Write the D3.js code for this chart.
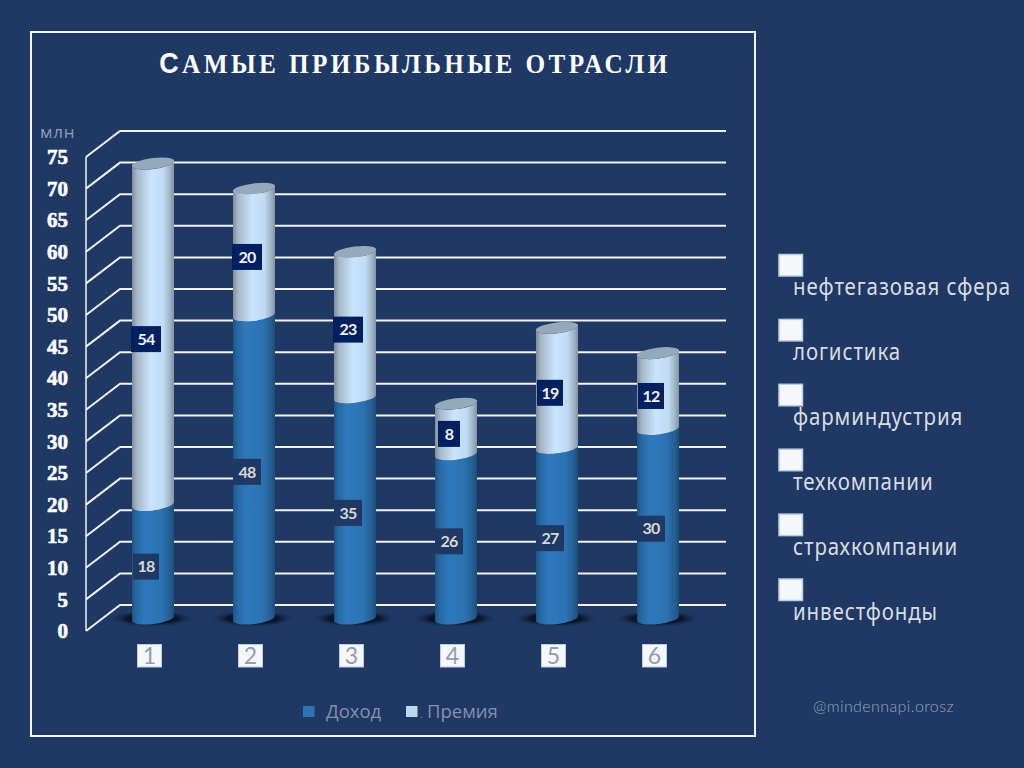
<!DOCTYPE html>
<html>
<head>
<meta charset="utf-8">
<script src="https://cdn.jsdelivr.net/npm/d3@7"></script>
<style>
  html, body { margin: 0; padding: 0; background: #1f3864; }
  svg { display: block; }
</style>
</head>
<body>
<script>
// Chart values
const categories = ['1', '2', '3', '4', '5', '6'];
const income = [18, 48, 35, 26, 27, 30];
const bonus = [54, 20, 23, 8, 19, 12];
const yTicks = [0, 5, 10, 15, 20, 25, 30, 35, 40, 45, 50, 55, 60, 65, 70, 75];
const industries = ['нефтегазовая сфера', 'логистика', 'фарминдустрия', 'техкомпании', 'страхкомпании', 'инвестфонды'];
const seriesNames = ['Доход', 'Премия'];

const svg = d3.select('body').append('svg').attr('width', 1024).attr('height', 768);
const defs = svg.append('defs');

// Cylinder shading
function sideGradient(id, stops) {
  const g = defs.append('linearGradient').attr('id', id).attr('x1', 0).attr('x2', 1).attr('y1', 0).attr('y2', 0);
  stops.forEach((s) => g.append('stop').attr('offset', s[0]).attr('stop-color', s[1]));
}
sideGradient('incomeFill', [[0, '#1f5482'], [0.1, '#2768a2'], [0.3, '#2e78bb'], [0.7, '#2c73b2'], [0.9, '#255e93'], [1, '#1e4d78']]);
sideGradient('bonusFill', [[0, '#7f8d9c'], [0.12, '#a6b8c9'], [0.45, '#c9e4fc'], [0.75, '#bfdaf2'], [0.92, '#9bafc2'], [1, '#8192a2']]);

const shadowGrad = defs.append('radialGradient').attr('id', 'floorShadow');
shadowGrad.append('stop').attr('offset', 0).attr('stop-color', '#070f20').attr('stop-opacity', 1);
shadowGrad.append('stop').attr('offset', 0.6).attr('stop-color', '#0a1428').attr('stop-opacity', 0.95);
shadowGrad.append('stop').attr('offset', 1).attr('stop-color', '#1f3864').attr('stop-opacity', 0);

// Frame
svg.append('rect')
  .attr('x', 31).attr('y', 32)
  .attr('width', 724).attr('height', 704)
  .attr('fill', 'none')
  .attr('stroke', '#f2f4f8')
  .attr('stroke-width', 2);

// Title
const title = svg.append('text')
  .attr('transform', 'translate(415,73) scale(0.9,1)')
  .attr('text-anchor', 'middle')
  .attr('fill', '#ffffff')
  .attr('font-family', 'Liberation Serif')
  .attr('font-weight', 'bold')
  .attr('font-size', 28)
  .attr('letter-spacing', 3.8);
title.append('tspan').attr('font-family', 'Liberation Sans').attr('font-size', 30).text('С');
title.append('tspan').text('АМЫЕ ПРИБЫЛЬНЫЕ ОТРАСЛИ');

// Scales: the wall is pushed back from the front axis by depth
const depthX = 34;
const depthY = 26;
const yFront = d3.scaleLinear().domain([0, 75]).range([631, 157]);
const yBack = (v) => yFront(v) - depthY;
const yBar = (v) => yFront(v) - 12.5;
const x = d3.scaleBand().domain(categories).range([85.5 + depthX / 2, 691.5 + depthX / 2]);
const barHalf = 21;

// Grid lines and the slanted wall
const grid = svg.append('g').attr('stroke', '#f0f2f6').attr('fill', 'none');
grid.selectAll('.back')
  .data(yTicks)
  .enter()
  .append('path')
  .attr('class', 'back')
  .attr('stroke-width', 2)
  .attr('d', (d) => `M${86},${yFront(d)}L${86 + depthX},${yBack(d)}L726,${yBack(d)}`);
grid.append('line')
  .attr('x1', 86).attr('x2', 86)
  .attr('y1', yFront(75)).attr('y2', yFront(0))
  .attr('stroke-width', 1.5);

// Y axis labels
const yAxis = svg.append('g')
  .attr('transform', 'translate(76,0)')
  .call(d3.axisLeft(yFront).tickValues(yTicks).tickSize(0).tickPadding(8));
yAxis.select('.domain').remove();
yAxis.selectAll('text')
  .attr('font-family', 'Liberation Serif')
  .attr('font-weight', 'bold')
  .attr('font-size', 21)
  .attr('fill', '#ffffff')
  .attr('stroke', '#ffffff')
  .attr('stroke-width', 0.6);

svg.append('text')
  .attr('x', 40).attr('y', 138)
  .attr('fill', '#8f9db5')
  .attr('font-family', 'Open Sans')
  .attr('font-size', 17)
  .attr('letter-spacing', 0.8)
  .text('млн');

// Bars
const rows = categories.map((c, i) => ({ c, income: income[i], bonus: bonus[i] }));
const tiltY = 2.6;

function sidePath(c, from, to) {
  const cx = x(c) + x.bandwidth() / 2;
  const l = cx - barHalf;
  const r = cx + barHalf;
  const top = yBar(to);
  const bot = yBar(from);
  return `M${l},${top + tiltY}A${barHalf},5.5 -7 0 0 ${r},${top - tiltY}L${r},${bot - tiltY}A${barHalf},5.5 -7 0 1 ${l},${bot + tiltY}Z`;
}

const bars = svg.selectAll('.bar').data(rows).enter().append('g').attr('class', 'bar');

bars.append('ellipse')
  .attr('cx', (d) => x(d.c) + x.bandwidth() / 2 - 1)
  .attr('cy', yBar(0))
  .attr('rx', 43)
  .attr('ry', 8.5)
  .attr('fill', 'url(#floorShadow)');

bars.append('path')
  .attr('d', (d) => sidePath(d.c, 0, d.income))
  .attr('fill', 'url(#incomeFill)');

bars.append('path')
  .attr('d', (d) => sidePath(d.c, d.income, d.income + d.bonus))
  .attr('fill', 'url(#bonusFill)');

bars.append('ellipse')
  .attr('rx', barHalf + 0.3)
  .attr('ry', 5.4)
  .attr('transform', (d) => `translate(${x(d.c) + x.bandwidth() / 2},${yBar(d.income + d.bonus)}) rotate(-7)`)
  .attr('fill', '#94a9bc');

// Data labels, boxes are narrower round the thin digit 1
function boxWidth(v, wide) {
  if (v < 10) return 22;
  return String(v).includes('1') ? 26 : wide;
}
function dataLabels(cls, mid, value, boxFill, textFill, wideBox) {
  const g = svg.selectAll('.' + cls).data(rows).enter().append('g')
    .attr('class', cls)
    .attr('transform', (d) => `translate(${x(d.c) + x.bandwidth() / 2 - 7},${yBar(mid(d)) + 5})`);
  g.append('rect')
    .attr('x', (d) => -boxWidth(value(d), wideBox) / 2).attr('y', -13)
    .attr('width', (d) => boxWidth(value(d), wideBox)).attr('height', 26)
    .attr('fill', boxFill);
  g.append('text')
    .attr('text-anchor', 'middle')
    .attr('dy', '0.36em')
    .attr('fill', textFill)
    .attr('font-family', 'Lato')
    .attr('font-weight', 'bold')
    .attr('font-size', 16)
    .attr('letter-spacing', -0.8)
    .text(value);
}
dataLabels('inc-label', (d) => d.income / 2, (d) => d.income, '#1f3864', '#d9d9d9', 28);
dataLabels('bon-label', (d) => d.income + d.bonus / 2, (d) => d.bonus, '#002060', '#f2f2f2', 30);

// Category labels in small white boxes
const xAxis = svg.append('g')
  .call(d3.axisBottom(x).tickSize(0).tickPadding(0));
xAxis.select('.domain').remove();
xAxis.selectAll('.tick')
  .attr('transform', (d) => `translate(${x(d) + x.bandwidth() / 2 - 3.5},655.5)`)
  .insert('rect', 'text')
  .attr('x', -12).attr('y', -11)
  .attr('width', 24).attr('height', 22.5)
  .attr('fill', '#f5f7fa')
  .attr('stroke', '#b9cde4')
  .attr('stroke-width', 1);
xAxis.selectAll('text')
  .attr('y', 0)
  .attr('dy', '0.36em')
  .attr('fill', '#8f9db5')
  .attr('font-family', 'Lato')
  .attr('font-size', 23);

// Bottom legend
const legendX = [303, 406];
const legendTextX = [326, 427];
const legendFill = ['#2e75b6', '#bdd7ee'];
seriesNames.forEach((name, i) => {
  svg.append('rect')
    .attr('x', legendX[i]).attr('y', 706)
    .attr('width', 11.5).attr('height', 11)
    .attr('fill', legendFill[i]);
  svg.append('text')
    .attr('x', legendTextX[i]).attr('y', 718)
    .attr('fill', '#8492aa')
    .attr('font-family', 'Open Sans')
    .attr('font-size', 18.5)
    .text(name);
});
svg.append('text')
  .attr('x', 420).attr('y', 718)
  .attr('fill', '#8492aa')
  .attr('font-family', 'Open Sans')
  .attr('font-size', 10)
  .text('.');

// Right hand list
const list = svg.selectAll('.industry').data(industries).enter().append('g')
  .attr('class', 'industry')
  .attr('transform', (d, i) => `translate(0,${d3.scaleLinear().domain([0, 5]).range([0, 324.5])(i)})`);
list.append('rect')
  .attr('x', 779).attr('y', 254.5)
  .attr('width', 23.5).attr('height', 21.5)
  .attr('fill', '#f5f7fa')
  .attr('stroke', '#b9cde4')
  .attr('stroke-width', 1.5);
list.append('text')
  .attr('transform', 'translate(793,295) scale(0.89,1)')
  .attr('fill', '#d9dce2')
  .attr('font-family', 'Noto Sans')
  .attr('font-size', 23)
  .attr('letter-spacing', 1)
  .text((d) => d);

// Watermark
svg.append('text')
  .attr('x', 813).attr('y', 712)
  .attr('fill', '#98a6be')
  .attr('font-family', 'Lato')
  .attr('font-weight', 300)
  .attr('font-size', 16)
  .attr('letter-spacing', 0.4)
  .text('@mindennapi.orosz');
</script>
</body>
</html>
